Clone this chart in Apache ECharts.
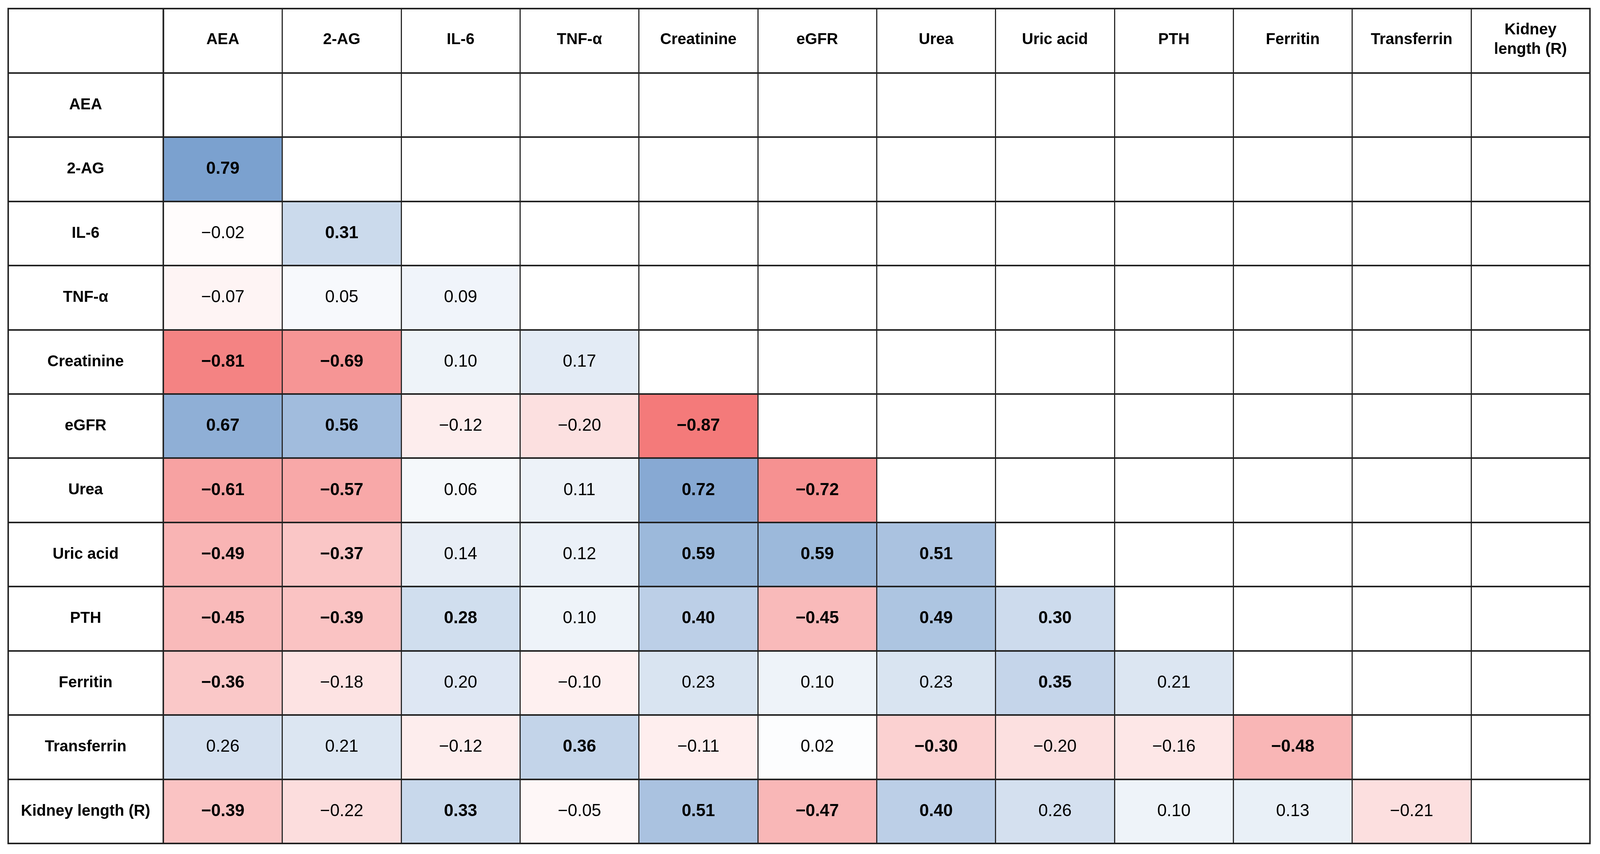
<!DOCTYPE html>
<html>
<head>
<meta charset="utf-8">
<script src="https://cdn.jsdelivr.net/npm/echarts@6/dist/echarts.min.js"></script>
<style>html,body{margin:0;padding:0;background:#fff;width:100%;height:100%;overflow:hidden}#container{width:100vw;height:100vh}</style>
</head>
<body>
<div id="container"></div>
<script>
var dom     = document.getElementById("container");
var myChart = echarts.init(dom);

// column headers and row labels
var colNames = ['AEA', '2-AG', 'IL-6', 'TNF-α', 'Creatinine', 'eGFR', 'Urea', 'Uric acid', 'PTH', 'Ferritin', 'Transferrin', 'Kidney\nlength (R)'];
var rowNames = ['AEA', '2-AG', 'IL-6', 'TNF-α', 'Creatinine', 'eGFR', 'Urea', 'Uric acid', 'PTH', 'Ferritin', 'Transferrin', 'Kidney length (R)'];

// lower triangle, row by row
var r2AG        = [0.79];
var rIL6        = [-0.02, 0.31];
var rTNF        = [-0.07, 0.05, 0.09];
var rCreatinine = [-0.81, -0.69, 0.10, 0.17];
var rEGFR       = [0.67, 0.56, -0.12, -0.20, -0.87];
var rUrea       = [-0.61, -0.57, 0.06, 0.11, 0.72, -0.72];
var rUricAcid   = [-0.49, -0.37, 0.14, 0.12, 0.59, 0.59, 0.51];
var rPTH        = [-0.45, -0.39, 0.28, 0.10, 0.40, -0.45, 0.49, 0.30];
var rFerritin   = [-0.36, -0.18, 0.20, -0.10, 0.23, 0.10, 0.23, 0.35, 0.21];
var rTransferr  = [0.26, 0.21, -0.12, 0.36, -0.11, 0.02, -0.30, -0.20, -0.16, -0.48];
var rKidney     = [-0.39, -0.22, 0.33, -0.05, 0.51, -0.47, 0.40, 0.26, 0.10, 0.13, -0.21];

var rows = [[], r2AG, rIL6, rTNF, rCreatinine, rEGFR, rUrea, rUricAcid, rPTH, rFerritin, rTransferr, rKidney];

var FONT = "'Liberation Sans', Arial, sans-serif";
var LINE = '#222';

var W = dom.clientWidth, H = dom.clientHeight;
var sx = W / 4299, sy = H / 2187, s = Math.min(sx, sy);

var yCats = [''].concat(rowNames);
var data = [];
for (var i = 0; i < rows.length; i++) {
    for (var j = 0; j < rows[i].length; j++) {
        var v = rows[i][j];
        var strong = Math.abs(v) >= 0.275;
        data.push({
            value: [j, i + 1, v],
            label: {fontWeight: strong ? 'bold' : 'normal'}
        });
    }
}

function fmt(v) {
    var t = Math.abs(v).toFixed(2);
    return v < 0 ? '\u2212' + t : t;
}

option = {
    backgroundColor: '#fff',
    animation: false,
    grid: [
        {left: 22 * sx, width: 417 * sx, top: 22 * sy, bottom: 27 * sy, show: true, borderColor: LINE, borderWidth: 4 * s},
        {left: 439 * sx, right: 27 * sx, top: 22 * sy, bottom: 27 * sy, show: true, borderColor: LINE, borderWidth: 4 * s}
    ],
    xAxis: [
        {type: 'category', gridIndex: 0, data: [''], show: false},
        {
            type: 'category', gridIndex: 1, data: colNames, position: 'top',
            axisLine: {show: false}, axisTick: {show: false},
            axisLabel: {inside: true, margin: 80 * sy, verticalAlign: 'middle', align: 'center',
                fontFamily: FONT, fontSize: 42 * s, fontWeight: 'bold', color: '#000', lineHeight: 52 * s, interval: 0},
            splitLine: {show: true, interval: 0, lineStyle: {color: LINE, width: 3 * s}},
            z: 10
        }
    ],
    yAxis: [
        {
            type: 'category', gridIndex: 0, data: yCats, inverse: true,
            axisLine: {show: false}, axisTick: {show: false},
            axisLabel: {inside: true, margin: 208 * sx, align: 'center', verticalAlign: 'middle',
                fontFamily: FONT, fontSize: 42 * s, fontWeight: 'bold', color: '#000', interval: 0},
            splitLine: {show: true, interval: 0, lineStyle: {color: LINE, width: 4 * s}},
            z: 10
        },
        {
            type: 'category', gridIndex: 1, data: yCats, inverse: true,
            axisLine: {show: false}, axisTick: {show: false}, axisLabel: {show: false},
            splitLine: {show: true, interval: 0, lineStyle: {color: LINE, width: 4 * s}},
            z: 10
        }
    ],
    visualMap: {
        show: false, min: -1, max: 1, dimension: 2, seriesIndex: 0,
        inRange: {color: ['#F26666', '#ffffff', '#5888C2']}
    },
    series: [{
        type: 'heatmap',
        xAxisIndex: 1,
        yAxisIndex: 1,
        data: data,
        label: {
            show: true, fontFamily: FONT, fontSize: 46 * s, color: '#000',
            formatter: function (p) { return fmt(p.value[2]); }
        }
    }]
};

myChart.setOption(option);
window.addEventListener('resize', function () { myChart.resize(); });
</script>
</body>
</html>
